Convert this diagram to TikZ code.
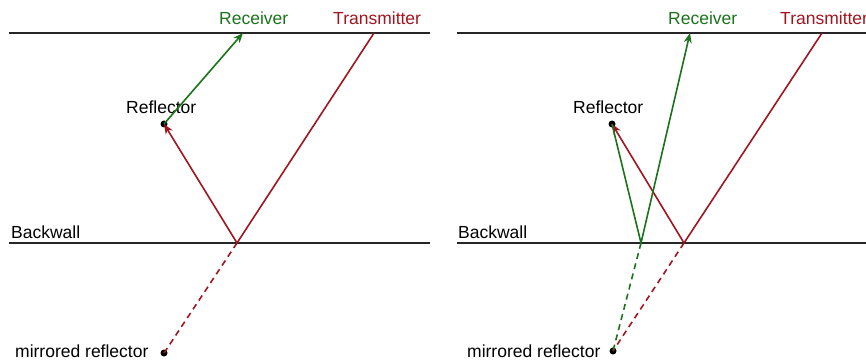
\documentclass[tikz,border=0pt]{standalone}
\usepackage{fontspec}
\setmainfont{Liberation Sans}
\usetikzlibrary{arrows.meta}
\definecolor{rxgreen}{RGB}{28,115,28}
\definecolor{txred}{RGB}{160,22,32}
\begin{document}
\begin{tikzpicture}[x=1pt,y=-1pt,
  lbl/.style={inner sep=0pt,anchor=base west,font=\fontsize{17.5}{20}\selectfont},
  wall/.style={line width=1.7pt,black!85},
  ray/.style={line width=1.6pt},
  arr/.style={ray,-{Stealth[length=10pt,width=8pt]}},
  virt/.style={ray,dash pattern=on 6pt off 4.5pt},
  dot/.style={circle,fill=black,inner sep=0pt,minimum size=7pt}]
\useasboundingbox (0,0) rectangle (866,363);
% ---------- left panel ----------
\coordinate (LT1) at (9,33);
\coordinate (LT2) at (430,33);
\coordinate (LB1) at (9,243);
\coordinate (LB2) at (430,243);
\draw[wall] (LT1) -- (LT2);
\draw[wall] (LB1) -- (LB2);
\node[lbl,text=rxgreen] (lrxl) at (219,25) {Receiver};
\node[lbl,text=txred] (ltxl) at (333,25) {Transmitter};
\node[lbl] (lrefl) at (126,114) {Reflector};
\node[lbl] (lbwl) at (11,238) {Backwall};
\node[lbl] (lmirl) at (15,357) {mirrored reflector};
\coordinate (ltx) at (374,33);
\coordinate (lrx) at (243,33);
\coordinate (lbounce) at (237,243);
\node[dot] (lref) at (164,124) {};
\node[dot] (lmir) at (164,353) {};
\draw[ray,txred] (ltx) -- (lbounce);
\draw[arr,txred] (lbounce) -- (lref.center);
\draw[arr,rxgreen] (lref.center) -- (lrx);
\draw[virt,txred] (lbounce) -- (lmir.center);
% ---------- right panel ----------
\coordinate (RT1) at (457,33);
\coordinate (RT2) at (866,33);
\coordinate (RB1) at (457,243);
\coordinate (RB2) at (866,243);
\draw[wall] (RT1) -- (RT2);
\draw[wall] (RB1) -- (RB2);
\node[lbl,text=rxgreen] (rrxl) at (668,25) {Receiver};
\node[lbl,text=txred] (rtxl) at (780,25) {Transmitter};
\node[lbl] (rrefl) at (573,114) {Reflector};
\node[lbl] (rbwl) at (458,238) {Backwall};
\node[lbl] (rmirl) at (467,357) {mirrored reflector};
\coordinate (rtx) at (822,33);
\coordinate (rrx) at (690,33);
\coordinate (rbounce) at (684,243);
\coordinate (gbounce) at (641,243);
\node[dot] (rref) at (612,124) {};
\node[dot] (rmir) at (613,351) {};
\draw[ray,txred] (rtx) -- (rbounce);
\draw[arr,txred] (rbounce) -- (rref.center);
\draw[ray,rxgreen] (rref.center) -- (gbounce);
\draw[arr,rxgreen] (gbounce) -- (rrx);
\draw[virt,txred] (rbounce) -- (rmir.center);
\draw[virt,rxgreen] (gbounce) -- (rmir.center);
\end{tikzpicture}
\end{document}
